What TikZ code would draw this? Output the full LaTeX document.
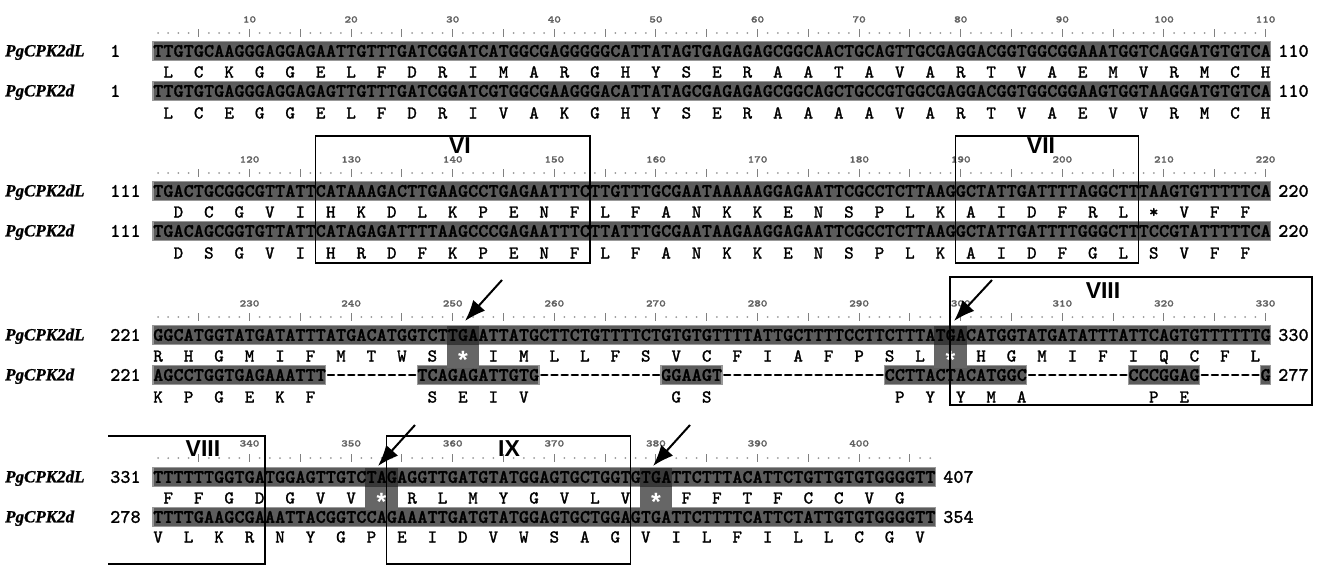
\documentclass[tikz,border=0pt]{standalone}
\usepackage{fontspec}
\usepackage{graphicx}
\usetikzlibrary{arrows.meta}
\newfontfamily\namefont{Liberation Serif}[FakeBold=1.2]
\newfontfamily\boxfont{Liberation Sans}
\newfontfamily\seqfont{lmmonolt10-bold.otf}[FakeBold=1.4]
\newfontfamily\aafont{lmmono10-regular.otf}[FakeBold=1.6]
\def\cw{10.16}
\ExplSyntaxOn
\NewDocumentCommand\cells{m}{\tl_map_inline:nn{#1}{\makebox[\cw pt][c]{##1}}}
\ExplSyntaxOff
\tikzset{
 seqtxt/.style={inner sep=0pt, anchor=base west, font=\fontsize{19}{19}\selectfont\seqfont},
 aatxt/.style={inner sep=0pt, anchor=base, font=\fontsize{18}{18}\selectfont\aafont},
 nm/.style={inner sep=0pt, anchor=base west, font=\fontsize{17}{17}\selectfont\namefont\bfseries\itshape},
 lnum/.style={inner sep=0pt, anchor=base west, font=\fontsize{19}{19}\selectfont\aafont},
 rnumst/.style={inner sep=0pt, anchor=base west, font=\fontsize{19}{19}\selectfont\aafont},
 rnum/.style={inner sep=0pt, anchor=base, text=black!62, font=\fontsize{10}{10}\selectfont\seqfont},
 rdot/.style={fill=black!40},
 rtick/.style={draw=black!50, line width=0.9pt},
 bandst/.style={fill=black!64, draw=black!40, line width=1.2pt},
 hlband/.style={fill=black!78},
 hlaa/.style={fill=black!60},
 wstar/.style={inner sep=0pt, anchor=base, text=white, font=\fontsize{25}{25}\selectfont\boxfont\bfseries},
 boxst/.style={draw=black, line width=1.4pt},
 roman/.style={inner sep=0pt, font=\fontsize{23}{23}\selectfont\boxfont\bfseries},
 arr/.style={-{Latex[length=21pt,width=16pt]}, line width=2pt},
}
% ruler: #1 number of chars, #2 offset, #3 label y, #4 dot y
\newcommand\rulerrow[4]{%
 \foreach \k in {1,...,#1}{%
   \pgfmathsetmacro\xx{153+(\k-0.5)*\cw}%
   \pgfmathtruncatemacro\mm{mod(\k,5)}%
   \ifnum\mm=0 \draw[rtick] (\xx,#4-4) -- (\xx,#4+4);\else \fill[rdot] (\xx,#4) circle (1.0);\fi
   \pgfmathtruncatemacro\mt{mod(\k,10)}%
   \ifnum\mt=0 \pgfmathtruncatemacro\lab{#2+\k}\node[rnum] at (\xx,#3+3.5) {\scalebox{1.25}[1]{\lab}};\fi
 }}
\newcommand\band[3]{\path[bandst] ({153+(#1-1)*\cw},#3-9.5) rectangle ({153+#2*\cw},#3+9.5);}
\newcommand\stophl[3]{%
 \fill[hlband] ({153+(#1-1)*\cw-1},#2-9.5) rectangle ({153+(#1+2)*\cw+1},#2+9.5);
 \fill[hlaa] ({153+(#1-1)*\cw-1},#2+9.5) rectangle ({153+(#1+2)*\cw+1},#3+12);
 \node[wstar] at ({153+(#1+0.5)*\cw},#3+12) {\smash{*}};}
\newcommand\seqrow[3]{\node[seqtxt] (#1) at (153,#2+5.8) {\cells{#3}};}
\newcommand\aarow[3]{\foreach \c [count=\i from 0] in {#3} {\node[aatxt] at ({153+(#1+3*\i-0.5)*\cw},#2+5.5) {\c};}}
\newcommand\namerow[4]{% name, y, left number, node name
 \node[nm] (#4n) at (5,#2+5.3) {#1};
 \node[lnum] (#4l) at (110,#2+5.8) {\cells{#3}};}
\begin{document}
\begin{tikzpicture}[x=1pt,y=-1pt]
\useasboundingbox (0,0) rectangle (1324,565);
\fill[white] (0,0) rectangle (1324,565);

% ---------------- block 1
\rulerrow{110}{0}{19}{33}
\band{1}{110}{51}
\band{1}{110}{91}
\seqrow{b1s1}{51}{TTGTGCAAGGGAGGAGAATTGTTTGATCGGATCATGGCGAGGGGGCATTATAGTGAGAGAGCGGCAACTGCAGTTGCGAGGACGGTGGCGGAAATGGTCAGGATGTGTCA}
\seqrow{b1s2}{91}{TTGTGTGAGGGAGGAGAGTTGTTTGATCGGATCGTGGCGAAGGGACATTATAGCGAGAGAGCGGCAGCTGCCGTGGCGAGGACGGTGGCGGAAGTGGTAAGGATGTGTCA}
\aarow{2}{72}{L,C,K,G,G,E,L,F,D,R,I,M,A,R,G,H,Y,S,E,R,A,A,T,A,V,A,R,T,V,A,E,M,V,R,M,C,H}
\aarow{2}{113}{L,C,E,G,G,E,L,F,D,R,I,V,A,K,G,H,Y,S,E,R,A,A,A,A,V,A,R,T,V,A,E,V,V,R,M,C,H}
\namerow{PgCPK2dL}{51}{1}{b1a}
\namerow{PgCPK2d}{91}{1}{b1b}
\node[rnumst] (b1ar) at (1278,51+5.8) {\cells{110}};
\node[rnumst] (b1br) at (1278,91+5.8) {\cells{110}};

% ---------------- block 2
\rulerrow{110}{110}{159}{173}
\band{1}{110}{191}
\band{1}{110}{231}
\seqrow{b2s1}{191}{TGACTGCGGCGTTATTCATAAAGACTTGAAGCCTGAGAATTTCTTGTTTGCGAATAAAAAGGAGAATTCGCCTCTTAAGGCTATTGATTTTAGGCTTTAAGTGTTTTTCA}
\seqrow{b2s2}{231}{TGACAGCGGTGTTATTCATAGAGATTTTAAGCCCGAGAATTTCTTATTTGCGAATAAGAAGGAGAATTCGCCTCTTAAGGCTATTGATTTTGGGCTTTCCGTATTTTTCA}
\aarow{3}{212}{D,C,G,V,I,H,K,D,L,K,P,E,N,F,L,F,A,N,K,K,E,N,S,P,L,K,A,I,D,F,R,L,*,V,F,F}
\aarow{3}{253}{D,S,G,V,I,H,R,D,F,K,P,E,N,F,L,F,A,N,K,K,E,N,S,P,L,K,A,I,D,F,G,L,S,V,F,F}
\namerow{PgCPK2dL}{191}{111}{b2a}
\namerow{PgCPK2d}{231}{111}{b2b}
\node[rnumst] (b2ar) at (1278,191+5.8) {\cells{220}};
\node[rnumst] (b2br) at (1278,231+5.8) {\cells{220}};
\draw[boxst] (315.6,136) rectangle (589.9,263);
\draw[boxst] (955.6,136) rectangle (1138.5,263);
\node[roman] (lvi) at (460,146) {VI};
\node[roman] (lvii) at (1041,146) {VII};

% ---------------- block 3
\rulerrow{110}{220}{303}{317}
\band{1}{110}{335}
\band{1}{17}{375}
\band{27}{38}{375}
\band{51}{56}{375}
\band{73}{86}{375}
\band{97}{103}{375}
\band{110}{110}{375}
\stophl{30}{335}{356}
\stophl{78}{335}{356}
\seqrow{b3s1}{335}{GGCATGGTATGATATTTATGACATGGTCTTGAATTATGCTTCTGTTTTCTGTGTGTTTTATTGCTTTTCCTTCTTTATGACATGGTATGATATTTATTCAGTGTTTTTTG}
\seqrow{b3s2}{375}{AGCCTGGTGAGAAATTT---------TCAGAGATTGTG------------GGAAGT----------------CCTTACTACATGGC----------CCCGGAG------G}
\aarow{1}{356}{R,H,G,M,I,F,M,T,W,S,{},I,M,L,L,F,S,V,C,F,I,A,F,P,S,L,{},H,G,M,I,F,I,Q,C,F,L}
\foreach \p/\c in {1/K,4/P,7/G,10/E,13/K,16/F,28/S,31/E,34/I,37/V,52/G,55/S,74/P,77/Y,80/Y,83/M,86/A,99/P,102/E}
  {\node[aatxt] at ({153+(\p-0.5)*\cw},397+5.5) {\c};}
\namerow{PgCPK2dL}{335}{221}{b3a}
\namerow{PgCPK2d}{375}{221}{b3b}
\node[rnumst] (b3ar) at (1278,335+5.8) {\cells{330}};
\node[rnumst] (b3br) at (1278,375+5.8) {\cells{277}};
\draw[boxst] (950,277) rectangle (1312,405);
\node[roman] (lviiia) at (1103,291) {VIII};
\coordinate (a1s) at (502,280); \coordinate (a1e) at (465,321);
\coordinate (a2s) at (992,280); \coordinate (a2e) at (954,321);
\draw[arr] (a1s) -- (a1e);
\draw[arr] (a2s) -- (a2e);

% ---------------- block 4
\rulerrow{77}{330}{443}{458}
\band{1}{77}{477}
\band{1}{77}{517}
\stophl{22}{477}{498}
\stophl{49}{477}{498}
\seqrow{b4s1}{477}{TTTTTTGGTGATGGAGTTGTCTAGAGGTTGATGTATGGAGTGCTGGTGTGATTCTTTACATTCTGTTGTGTGGGGTT}
\seqrow{b4s2}{517}{TTTTGAAGCGAAATTACGGTCCAGAAATTGATGTATGGAGTGCTGGAGTGATTCTTTTCATTCTATTGTGTGGGGTT}
\aarow{2}{498}{F,F,G,D,G,V,V,{},R,L,M,Y,G,V,L,V,{},F,F,T,F,C,C,V,G}
\aarow{1}{537}{V,L,K,R,N,Y,G,P,E,I,D,V,W,S,A,G,V,I,L,F,I,L,L,C,G,V}
\namerow{PgCPK2dL}{477}{331}{b4a}
\namerow{PgCPK2d}{517}{278}{b4b}
\node[rnumst] (b4ar) at (943,477+5.8) {\cells{407}};
\node[rnumst] (b4br) at (943,517+5.8) {\cells{354}};
\draw[boxst] (108,436) -- (265,436) -- (265,564) -- (108,564);
\draw[boxst] (386.7,436) rectangle (630.5,564);
\node[roman] (lviiib) at (203,449) {VIII};
\node[roman] (lix) at (509,449) {IX};
\coordinate (a3s) at (415,425); \coordinate (a3e) at (378,466);
\coordinate (a4s) at (690,425); \coordinate (a4e) at (653,466);
\draw[arr] (a3s) -- (a3e);
\draw[arr] (a4s) -- (a4e);
\end{tikzpicture}
\end{document}
